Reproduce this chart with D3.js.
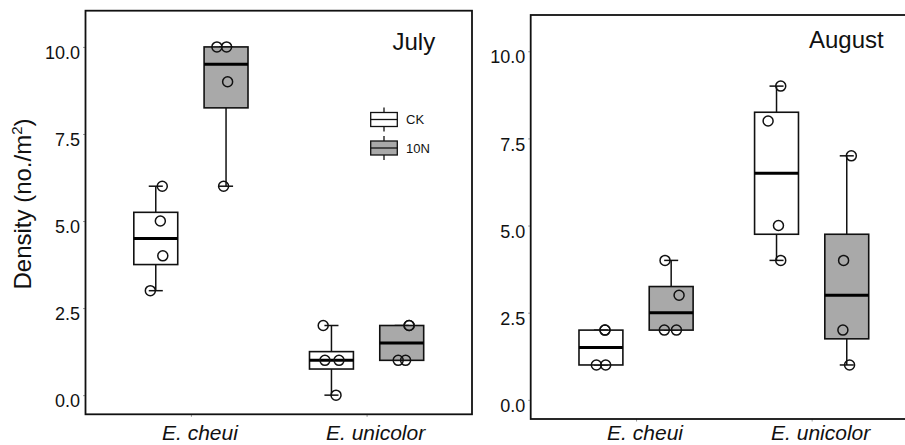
<!DOCTYPE html>
<html>
<head>
<meta charset="utf-8">
<script src="https://cdn.jsdelivr.net/npm/d3@7"></script>
<style>
  html, body { margin: 0; padding: 0; background: #fff; }
  svg { display: block; font-family: "Liberation Sans", Arial, Helvetica, sans-serif; }
</style>
</head>
<body>
<svg id="chart" width="905" height="445"></svg>
<script>
// Density of two species under two treatments, per sampling month
const months = ["July", "August"];
const species = ["E. cheui", "E. unicolor"];
const treatments = ["CK", "10N"];

// replicate counts (no./m2), one list per species
const julyCK    = [[6, 5, 4, 3], [2, 1, 1, 0]];
const july10N   = [[10, 10, 9, 6], [2, 2, 1, 1]];
const augustCK  = [[2, 2, 1, 1], [9, 8, 5, 4]];
const august10N = [[4, 3, 2, 2], [7, 4, 2, 1]];

// horizontal jitter of each replicate point, in category-step units
const julyCKJitter    = [[0.037, 0.026, 0.040, -0.031], [-0.047, -0.037, 0.043, 0.026]];
const july10NJitter   = [[-0.052, 0.003, 0.009, -0.014], [0.042, 0.042, -0.020, 0.022]];
const augustCKJitter  = [[0.023, 0.023, -0.026, 0.027], [0.024, -0.048, 0.011, 0.024]];
const august10NJitter = [[-0.035, 0.045, -0.039, 0.030], [0.026, -0.018, -0.022, 0.016]];

const yTicks = [0, 2.5, 5, 7.5, 10];
const yDomain = [-0.55, 11.04];

const fills = { "CK": "#ffffff", "10N": "#a9a9a9" };

const svg = d3.select("#chart");
svg.append("rect").attr("width", 905).attr("height", 445).attr("fill", "#fff");

const panels = [
  { month: "July",   ck: julyCK,   n10: july10N,   ckJ: julyCKJitter,   nJ: july10NJitter,
    x0: 85.5, x1: 472, y0: 10.7, y1: 414.3, titleX: 392.5, titleY: 49.5, labelY: 440, legend: true },
  { month: "August", ck: augustCK, n10: august10N, ckJ: augustCKJitter, nJ: august10NJitter,
    x0: 530.7, x1: 917, y0: 15, y1: 419, titleX: 809, titleY: 48, labelY: 440.3, legend: false }
];

const dodge = 0.2;      // offset of each treatment from the category centre
const boxW = 0.25;      // box width
const capW = 0.08;      // whisker cap width

function boxStats(vals) {
  const s = vals.slice().sort(d3.ascending);
  const q1 = d3.quantile(s, 0.25), med = d3.quantile(s, 0.5), q3 = d3.quantile(s, 0.75);
  const iqr = q3 - q1;
  const lo = d3.min(s.filter(v => v >= q1 - 1.5 * iqr));
  const hi = d3.max(s.filter(v => v <= q3 + 1.5 * iqr));
  return { q1, med, q3, lo, hi };
}

panels.forEach(p => {
  const g = svg.append("g");
  const x = d3.scalePoint().domain(species).range([p.x0, p.x1]).padding(0.6);
  const step = x.step();
  const y = d3.scaleLinear().domain(yDomain).range([p.y1, p.y0]);

  // y axis: tick labels and tiny ticks
  const yAxis = d3.axisLeft(y).tickValues(yTicks).tickFormat(d3.format(".1f")).tickSize(2.5).tickPadding(3);
  const ya = g.append("g").attr("transform", `translate(${p.x0},0)`).call(yAxis);
  ya.select(".domain").remove();
  ya.selectAll(".tick line").attr("stroke", "#9a9a9a").attr("stroke-width", 1);
  ya.selectAll(".tick text").attr("font-size", 18).attr("fill", "#111").attr("dy", "0.65em")
    .attr("font-family", "'Liberation Sans', Arial, sans-serif");

  // x axis: tiny ticks and italic species names
  const xAxis = d3.axisBottom(x).tickSize(2.5).tickFormat("");
  const xa = g.append("g").attr("transform", `translate(0,${p.y1})`).call(xAxis);
  xa.select(".domain").remove();
  xa.selectAll(".tick line").attr("stroke", "#9a9a9a").attr("stroke-width", 1);
  g.selectAll("text.cat").data(species).join("text").attr("class", "cat")
    .attr("x", d => x(d) + 9).attr("y", p.labelY)
    .attr("text-anchor", "middle").attr("font-size", 21).attr("font-style", "italic").attr("fill", "#111")
    .text(d => d);

  // boxes, whiskers, caps, medians, points
  const groups = [];
  species.forEach((sp, i) => {
    groups.push({ sp, tr: "CK",  vals: p.ck[i],  jit: p.ckJ[i], off: -dodge });
    groups.push({ sp, tr: "10N", vals: p.n10[i], jit: p.nJ[i],  off: dodge });
  });

  groups.forEach(d => {
    const st = boxStats(d.vals);
    const cx = x(d.sp) + d.off * step;
    const hw = boxW * step / 2, cw = capW * step / 2;
    const bg = g.append("g");
    // caps
    [st.lo, st.hi].forEach(v => {
      bg.append("line").attr("x1", cx - cw).attr("x2", cx + cw).attr("y1", y(v)).attr("y2", y(v))
        .attr("stroke", "#111").attr("stroke-width", 1.5);
    });
    // whiskers
    bg.append("line").attr("x1", cx).attr("x2", cx).attr("y1", y(st.hi)).attr("y2", y(st.q3))
      .attr("stroke", "#111").attr("stroke-width", 1.5);
    bg.append("line").attr("x1", cx).attr("x2", cx).attr("y1", y(st.q1)).attr("y2", y(st.lo))
      .attr("stroke", "#111").attr("stroke-width", 1.5);
    // box
    bg.append("rect").attr("x", cx - hw).attr("y", y(st.q3)).attr("width", 2 * hw)
      .attr("height", y(st.q1) - y(st.q3)).attr("fill", fills[d.tr])
      .attr("stroke", "#111").attr("stroke-width", 1.6);
    // median
    bg.append("line").attr("x1", cx - hw).attr("x2", cx + hw).attr("y1", y(st.med)).attr("y2", y(st.med))
      .attr("stroke", "#000").attr("stroke-width", 3);
    // replicate points
    bg.selectAll("circle").data(d.vals).join("circle")
      .attr("cx", (v, k) => cx + d.jit[k] * step).attr("cy", v => y(v)).attr("r", 5)
      .attr("fill", "none").attr("stroke", "#111").attr("stroke-width", 1.5);
  });

  // panel frame
  g.append("rect").attr("x", p.x0).attr("y", p.y0).attr("width", p.x1 - p.x0).attr("height", p.y1 - p.y0)
    .attr("fill", "none").attr("stroke", "#111").attr("stroke-width", 1.8);

  // month title
  g.append("text").attr("x", p.titleX).attr("y", p.titleY).attr("font-size", 24).attr("fill", "#111")
    .text(p.month);

  // treatment legend
  if (p.legend) {
    const lg = g.append("g");
    treatments.forEach((t, i) => {
      const cy = 119.5 + i * 28.5;
      const kx = 384;
      lg.append("line").attr("x1", kx).attr("x2", kx).attr("y1", cy - 12).attr("y2", cy + 12)
        .attr("stroke", "#111").attr("stroke-width", 1.3);
      lg.append("rect").attr("x", kx - 13.3).attr("y", cy - 7).attr("width", 26.6).attr("height", 14)
        .attr("fill", fills[t]).attr("stroke", "#111").attr("stroke-width", 1.3);
      lg.append("line").attr("x1", kx - 13.3).attr("x2", kx + 13.3).attr("y1", cy).attr("y2", cy)
        .attr("stroke", "#111").attr("stroke-width", 1.3);
      lg.append("text").attr("x", 406).attr("y", cy + 4.6).attr("font-size", 13).attr("fill", "#111").text(t);
    });
  }
});

// shared y-axis title
svg.append("text")
  .attr("transform", "translate(31,204) rotate(-90)")
  .attr("text-anchor", "middle").attr("font-size", 24).attr("fill", "#111")
  .call(t => {
    t.append("tspan").text("Density (no./m");
    t.append("tspan").attr("font-size", 15).attr("dy", -9).text("2");
    t.append("tspan").attr("dy", 9).text(")");
  });
</script>
</body>
</html>
